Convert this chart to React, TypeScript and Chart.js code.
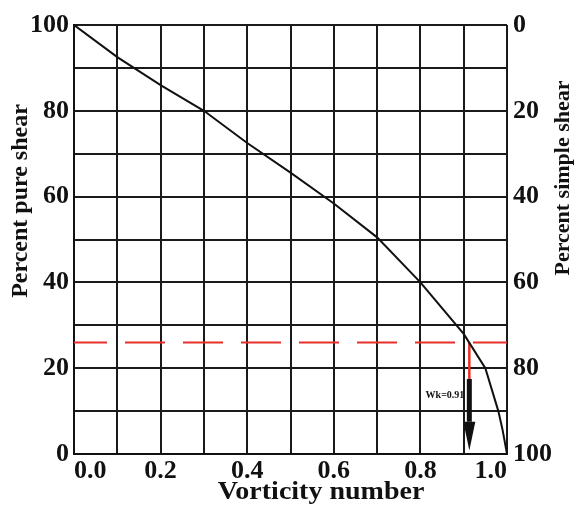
import React, { useEffect, useRef } from "react";
import { Chart, registerables } from "chart.js";

Chart.register(...registerables);

// Curve: vorticity number (Wk) vs percent pure shear
const curveWk = [0, 0.1, 0.2, 0.3, 0.4, 0.5, 0.6, 0.7, 0.8, 0.9, 0.95, 0.98, 0.99, 1.0];
const curvePure = [100, 92.5, 86, 80, 72.5, 65.6, 58.4, 50.5, 40, 28, 20, 10, 5.5, 0];

// Estimated value
const wkValue = 0.913;
const pureAtWk = 26;
const redDropEnd = 17.5;
const arrowShaftEnd = 7.5;
const arrowTip = 0.8;
const wkLabel = "Wk=0.91";
const wkLabelY = 13.7;

const xTitle = "Vorticity number";
const yLeftTitle = "Percent pure shear";
const yRightTitle = "Percent simple shear";

const SERIF = "'Liberation Serif', 'DejaVu Serif', serif";

export default function App() {
  const ref = useRef<HTMLCanvasElement | null>(null);

  useEffect(() => {
    if (!ref.current) return;

    const overlay = {
      id: "overlay",
      afterDatasetsDraw(chart: any) {
        const { ctx, scales } = chart;
        const x = scales.x;
        const y = scales.y;
        const ax = x.getPixelForValue(wkValue);
        const headTop = y.getPixelForValue(arrowShaftEnd);
        const tip = y.getPixelForValue(arrowTip);
        ctx.save();
        ctx.fillStyle = "#111";
        ctx.beginPath();
        ctx.moveTo(ax - 6, headTop);
        ctx.lineTo(ax + 6, headTop);
        ctx.lineTo(ax, tip);
        ctx.closePath();
        ctx.fill();
        ctx.font = `bold 10px ${SERIF}`;
        ctx.textAlign = "right";
        ctx.textBaseline = "middle";
        ctx.fillText(wkLabel, ax - 5, y.getPixelForValue(wkLabelY));
        ctx.restore();
      },
      afterDraw(chart: any) {
        const { ctx } = chart;
        ctx.save();
        ctx.fillStyle = "#111";
        ctx.textAlign = "center";
        ctx.textBaseline = "alphabetic";
        ctx.save();
        ctx.translate(321, 499);
        ctx.scale(1.12, 1);
        ctx.font = `bold 25px ${SERIF}`;
        ctx.fillText(xTitle, 0, 0);
        ctx.restore();
        ctx.save();
        ctx.translate(27, 201);
        ctx.rotate(-Math.PI / 2);
        ctx.font = `bold 24px ${SERIF}`;
        ctx.fillText(yLeftTitle, 0, 0);
        ctx.restore();
        ctx.save();
        ctx.translate(569, 178);
        ctx.rotate(-Math.PI / 2);
        ctx.font = `bold 22px ${SERIF}`;
        ctx.fillText(yRightTitle, 0, 0);
        ctx.restore();
        ctx.restore();
      },
    };

    const chart = new Chart(ref.current, {
      type: "line",
      data: {
        datasets: [
          {
            data: curveWk.map((w, i) => ({ x: w, y: curvePure[i] })),
            borderColor: "#111",
            borderWidth: 2,
            pointRadius: 0,
            tension: 0,
          },
          {
            data: [
              { x: 0, y: pureAtWk },
              { x: 1, y: pureAtWk },
            ],
            borderColor: "#e8302a",
            borderWidth: 2,
            borderDash: [40, 18],
            borderDashOffset: 7,
            pointRadius: 0,
          },
          {
            data: [
              { x: wkValue, y: pureAtWk },
              { x: wkValue, y: redDropEnd },
            ],
            borderColor: "#e8302a",
            borderWidth: 2.5,
            pointRadius: 0,
          },
          {
            data: [
              { x: wkValue, y: redDropEnd },
              { x: wkValue, y: arrowShaftEnd },
            ],
            borderColor: "#111",
            borderWidth: 5,
            pointRadius: 0,
          },
        ],
      },
      options: {
        animation: false,
        responsive: false,
        layout: { padding: { top: 25, left: 0, right: 0, bottom: 0 } },
        plugins: {
          legend: { display: false },
          tooltip: { enabled: false },
        },
        scales: {
          x: {
            type: "linear",
            min: 0,
            max: 1,
            afterFit: (s: any) => {
              s.height = 59;
            },
            ticks: {
              stepSize: 0.1,
              align: "inner",
              padding: 2,
              color: "#111",
              font: { family: SERIF, size: 26, weight: "bold" },
              callback: (v: any, i: number) =>
                i % 2 === 0 ? Number(v).toFixed(1) : "",
            },
            grid: { color: "#1a1a1a", lineWidth: 2, drawTicks: false },
            border: { color: "#111", width: 2 },
          },
          y: {
            type: "linear",
            position: "left",
            min: 0,
            max: 100,
            afterFit: (s: any) => {
              s.width = 74;
            },
            ticks: {
              stepSize: 10,
              padding: 5,
              color: "#111",
              font: { family: SERIF, size: 26, weight: "bold" },
              callback: (v: any) => (Number(v) % 20 === 0 ? String(v) : ""),
            },
            grid: { color: "#1a1a1a", lineWidth: 2, drawTicks: false },
            border: { color: "#111", width: 2 },
          },
          y2: {
            type: "linear",
            position: "right",
            min: 0,
            max: 100,
            reverse: true,
            afterFit: (s: any) => {
              s.width = 70;
            },
            ticks: {
              stepSize: 20,
              padding: 6,
              color: "#111",
              font: { family: SERIF, size: 26, weight: "bold" },
            },
            grid: { drawOnChartArea: false, drawTicks: false },
            border: { display: false },
          },
        },
      },
      plugins: [overlay],
    });
    return () => chart.destroy();
  }, []);

  return (
    <div
      style={{
        position: "fixed",
        left: 0,
        top: 0,
        width: 577,
        height: 513,
        background: "#fff",
      }}
    >
      <canvas ref={ref} width={577} height={513} />
    </div>
  );
}
